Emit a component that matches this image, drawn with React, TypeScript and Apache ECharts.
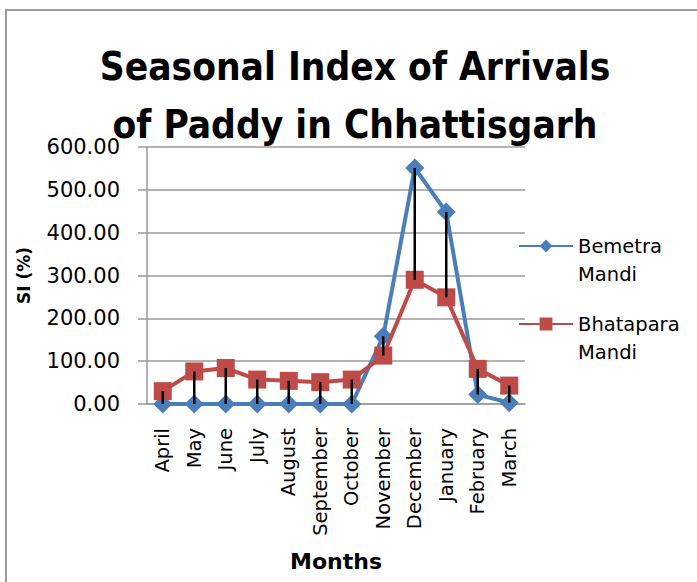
import React, { useEffect, useRef } from "react";
import * as echarts from "echarts";

const months = ["April", "May", "June", "July", "August", "September", "October", "November", "December", "January", "February", "March"];
const bemetra = [0, 0, 0, 0, 0, 0, 0, 158, 551, 448, 22, 3];
const bhatapara = [30, 76, 84, 57, 54, 51, 57, 113, 290, 249, 82, 43];
const yTicks = { min: 0, max: 600, interval: 100 };
const seriesNames = ["Bemetra Mandi", "Bhatapara Mandi"];

const FONT = "DejaVu Sans";
const TITLE_FONT = "'DejaVu Sans Condensed', 'DejaVu Sans', sans-serif";

export default function App() {
  const ref = useRef<HTMLDivElement>(null);
  useEffect(() => {
    if (!ref.current) return;
    const chart = echarts.init(ref.current, undefined, { renderer: "svg" });
    const hiLo = months.map((_, i) => [i, Math.min(bemetra[i], bhatapara[i]), Math.max(bemetra[i], bhatapara[i])]);
    chart.setOption({
      animation: false,
      backgroundColor: "#fff",
      textStyle: { fontFamily: FONT },
      title: {
        text: "Seasonal Index of Arrivals\nof Paddy in Chhattisgarh",
        left: 350,
        top: 32,
        textAlign: "center",
        textStyle: { fontFamily: TITLE_FONT, fontSize: 38.5, fontWeight: "bold", color: "#000", lineHeight: 58 },
      },
      graphic: [
        {
          type: "rect",
          shape: { x: 6, y: 10, width: 800, height: 800 },
          style: { fill: "none", stroke: "#9a9a9a", lineWidth: 2 },
          silent: true,
        },
      ],
      legend: {
        orient: "vertical",
        left: 513,
        top: 199,
        data: seriesNames,
        itemWidth: 54,
        itemHeight: 16,
        itemGap: -6,
        formatter: (name: string) => " \n" + name.replace(" ", "\n"),
        textStyle: { fontFamily: FONT, fontSize: 19.5, color: "#000", lineHeight: 28 },
      },
      grid: { left: 147, right: 172, top: 147, bottom: 178 },
      xAxis: {
        type: "category",
        data: months,
        boundaryGap: true,
        name: "Months",
        nameLocation: "middle",
        nameGap: 146,
        nameTextStyle: { fontFamily: FONT, fontSize: 22, fontWeight: "bold", color: "#000" },
        axisLine: { lineStyle: { color: "#9a9a9a", width: 1.5 } },
        axisTick: { show: false },
        axisLabel: { rotate: 90, margin: 24, fontFamily: FONT, fontSize: 19.5, color: "#000", interval: 0 },
      },
      yAxis: {
        type: "value",
        min: yTicks.min,
        max: yTicks.max,
        interval: yTicks.interval,
        name: "SI (%)",
        nameLocation: "middle",
        nameGap: 115,
        nameTextStyle: { fontFamily: FONT, fontSize: 17, fontWeight: "bold", color: "#000" },
        axisLine: { show: true, lineStyle: { color: "#9a9a9a", width: 1.5 } },
        axisTick: { show: true, length: 9, lineStyle: { color: "#9a9a9a", width: 1.5 } },
        splitLine: { lineStyle: { color: "#9a9a9a", width: 1.5 } },
        axisLabel: { margin: 27, fontFamily: FONT, fontSize: 21, color: "#000", formatter: (v: number) => v.toFixed(2) },
      },
      series: [
        {
          name: seriesNames[0],
          type: "line",
          data: bemetra,
          symbol: "diamond",
          symbolSize: 19,
          lineStyle: { color: "#4A7EBB", width: 4 },
          itemStyle: { color: "#4A7EBB" },
          z: 3,
        },
        {
          name: seriesNames[1],
          type: "line",
          data: bhatapara,
          symbol: "rect",
          symbolSize: 18,
          lineStyle: { color: "#BE4B48", width: 4 },
          itemStyle: { color: "#BE4B48" },
          z: 4,
        },
        {
          name: "hilo",
          type: "custom",
          data: hiLo,
          z: 10,
          silent: true,
          renderItem: (_params: any, api: any) => {
            const i = api.value(0);
            const p1 = api.coord([i, api.value(1)]);
            const p2 = api.coord([i, api.value(2)]);
            return {
              type: "line",
              shape: { x1: p1[0], y1: p1[1], x2: p2[0], y2: p2[1] },
              style: { stroke: "#000", lineWidth: 2.5 },
            };
          },
        },
      ],
    });
    return () => chart.dispose();
  }, []);
  return <div ref={ref} style={{ position: "fixed", left: 0, top: 0, width: 697, height: 582 }} />;
}
